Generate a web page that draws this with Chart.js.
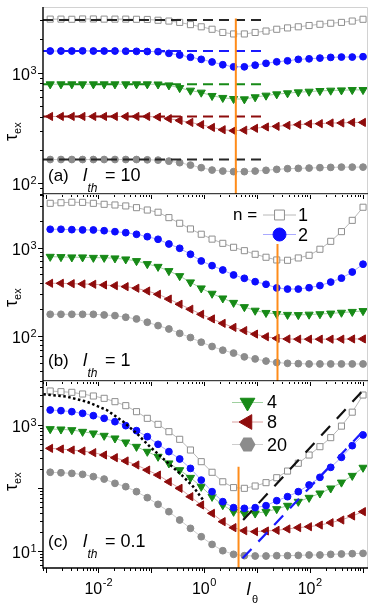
<!DOCTYPE html>
<html lang="en">
<head>
<meta charset="UTF-8">
<title>tau_ex vs l_theta</title>
<script src="https://cdn.jsdelivr.net/npm/chart.js"></script>
<style>
  html, body { margin: 0; padding: 0; background: #fff; }
  #figure { position: relative; width: 382px; height: 613px; overflow: hidden; }
  #figure canvas { position: absolute; left: 0; top: 0; }
</style>
</head>
<body>
<div id="figure">
  <canvas id="panelA" width="382" height="613"></canvas>
  <canvas id="panelB" width="382" height="613"></canvas>
  <canvas id="panelC" width="382" height="613"></canvas>
</div>
<script>
const FONT = '"Liberation Sans", Arial, sans-serif';
const X_MIN = 0.000891, X_MAX = 1259;

// l_theta, shared by all panels (each step is about x1.6)
const lTheta = [0.00122, 0.00195, 0.00313, 0.005, 0.008, 0.0128, 0.0205, 0.0328, 0.0524, 0.0839,
                0.134, 0.215, 0.344, 0.55, 0.88, 1.41, 2.25, 3.6, 5.76, 9.22,
                14.8, 23.6, 37.8, 60.4, 96.7, 155, 248, 396, 634, 1014];
const nLabels = ['1', '2', '4', '8', '20'];
const xTickExp = [-2, 0, 2];

// (a) l_th = 10
const aN1  = [3050, 3050, 3040, 3060, 3060, 3050, 3050, 3050, 3040, 3030, 2980, 2930, 2850, 2720, 2600, 2470, 2310, 2240, 2240, 2310, 2380, 2470, 2540, 2600, 2670, 2740, 2800, 2850, 2930, 3040];
const aN2  = [1570, 1570, 1570, 1575, 1570, 1570, 1570, 1565, 1560, 1555, 1550, 1495, 1445, 1380, 1320, 1250, 1180, 1130, 1130, 1170, 1215, 1255, 1280, 1320, 1335, 1355, 1375, 1385, 1385, 1395];
const aN4  = [787, 787, 787, 787, 787, 787, 787, 787, 787, 787, 785, 770, 728, 690, 662, 618, 593, 580, 576, 601, 622, 639, 653, 666, 675, 685, 690, 694, 699, 699];
const aN8  = [402, 402, 402, 402, 402, 402, 402, 402, 402, 402, 397, 384, 370, 355, 339, 320, 305, 299, 302, 314, 323, 327, 334, 339, 344, 346, 351, 351, 355, 355];
const aN20 = [164, 164, 164, 164, 164, 164, 164, 164, 164, 163, 162, 158.6, 153.5, 146, 138.4, 131.7, 129, 127.4, 127.4, 129, 131, 133.6, 135.5, 136.4, 137.3, 138.4, 139.2, 140, 140, 140];
const aPlateau    = [3000, 1570, 787, 402, 164];
const aPlateauEnd = [13.1, 15.1, 14.1, 13.1, 13.1];
const aMarkX = 3.97, aMarkTop = 3090;

// (b) l_th = 1
const bN1  = [3180, 3230, 3270, 3260, 3180, 3100, 3045, 2970, 2840, 2670, 2520, 2190, 1890, 1630, 1420, 1250, 1120, 1010, 925, 842, 779, 726, 720, 765, 820, 960, 1180, 1520, 2040, 2870];
const bN2  = [1616, 1616, 1600, 1590, 1587, 1557, 1518, 1479, 1418, 1332, 1245, 1101, 984, 842, 707, 626, 559, 491, 450, 412, 385, 350, 340, 340, 352, 372, 408, 452, 530, 650];
const bN4  = [791, 785, 779, 779, 770, 770, 759, 739, 707, 654, 609, 545, 478, 406, 347, 302, 267, 238, 213, 194, 183, 178, 174, 173, 175, 177, 180, 184, 188, 192];
const bN8  = [395, 395, 391, 388, 385, 378, 371, 362, 347, 323, 297, 262, 229, 201, 176, 156, 139, 125, 115, 105, 98, 94, 92.5, 92, 92, 92, 92, 92, 92.5, 92.5];
const bN20 = [176, 176, 176, 176, 176, 173, 170, 163, 156, 143, 131, 120, 107, 96, 85, 76, 69, 64, 58, 55, 52, 50, 49, 48.6, 48.2, 48.2, 48.2, 48.2, 48.2, 48.2];
const bMarkX = 24.4, bMarkTop = 1100;

// (c) l_th = 0.1
const cN1  = [3475, 3392, 3309, 3113, 2893, 2657, 2351, 2031, 1630, 1277, 1025, 783, 592, 400, 261, 177, 125, 101, 98.3, 107, 121, 145, 185, 246, 333, 452, 629, 960, 1600, 3000];
const cN2  = [1733, 1691, 1630, 1534, 1408, 1277, 1130, 976, 813, 652, 493, 377, 288, 204, 133, 87, 60.3, 48.4, 47.2, 48.4, 52.1, 62.5, 72.4, 87, 111, 147, 212, 306, 469, 694];
const cN4  = [864, 853, 832, 783, 737, 677, 614, 530, 452, 377, 314, 246, 192, 145, 104.5, 72.4, 53.4, 41.8, 39.3, 39.3, 41.8, 46.1, 52.1, 60.3, 69.8, 81.8, 98.3, 122, 156, 210];
const cN8  = [425, 415, 400, 386, 363, 333, 302, 268, 231, 192, 160, 125, 98.3, 72.4, 53.4, 39.3, 29, 23.3, 20.8, 20.1, 20.6, 21.1, 22.2, 23.3, 24.1, 25.6, 27.9, 30.8, 35.7, 41.8];
const cN20 = [177, 174, 170, 164, 151, 138, 118, 104.5, 87, 69.8, 54.7, 41.8, 30.8, 22.7, 16.7, 12.6, 10.0, 8.76, 8.34, 8.24, 8.24, 8.34, 8.34, 8.44, 8.55, 8.55, 8.76, 8.87, 8.97, 9.08];
const cDotX = [0.000905, 0.00251, 0.00598, 0.0143, 0.0294, 0.0527, 0.0942, 0.1945, 0.374, 0.62, 0.957];
const cDotY = [3076, 2825, 2351, 1733, 1130, 737, 452, 261, 160, 104.5, 64.1];
const cSlopeX1 = [5.46, 1175], cSlopeY1 = [30.8, 4064];
const cSlopeX2 = [5.32, 1175], cSlopeY2 = [7.57, 906];
const cMarkX = 4.47, cMarkTop = 217;

const STYLE = [
  { shape: 'rect',     r: 4.3, rot: 0,   fill: '#ffffff', edge: '#8f8f8f', line: '#b8b8b8', ref: '#262626' },
  { shape: 'circle',   r: 3.4, rot: 0,   fill: '#0d0dff', edge: '#0d0dff', line: '#a9a9ff', ref: '#1a1aff' },
  { shape: 'triangle', r: 4.7, rot: 180, fill: '#178a17', edge: '#178a17', line: '#9fd09f', ref: '#178a17' },
  { shape: 'triangle', r: 4.7, rot: 270, fill: '#8e0c0c', edge: '#8e0c0c', line: '#d9a0a0', ref: '#8e0c0c' },
  { shape: 'circle',   r: 3.4, rot: 0,   fill: '#8c8c8c', edge: '#8c8c8c', line: '#cdcdcd', ref: '#262626' }
];
const ORANGE = '#ff8c1a';

function pts(xs, ys) { return xs.map((x, i) => ({ x: x, y: ys[i] })); }

function refLine(data, color, width, dash, order) {
  return { data: data, borderColor: color, borderWidth: width, borderDash: dash,
           pointRadius: 0, fill: false, order: order, borderCapStyle: 'butt' };
}

const PANELS = [
  { id: 'panelA', tag: '(a)', lth: '10', top: 7, bottom: 194, yMin: 80, yMax: 3926, yExp: [2, 3],
    tagY: 181, tauY: 141, series: [aN1, aN2, aN4, aN8, aN20],
    refs: function (P) {
      const out = aPlateau.map((v, k) => refLine(pts([X_MIN, aPlateauEnd[k]], [v, v]), STYLE[k].ref, 2, [10, 6], 1));
      out.push(refLine(pts([aMarkX, aMarkX], [aMarkTop, P.yMin]), ORANGE, 2, [], 0));
      return out;
    } },
  { id: 'panelB', tag: '(b)', lth: '1', top: 194, bottom: 381, yMin: 30.9, yMax: 4055, yExp: [2, 3],
    tagY: 366, tauY: 307, series: [bN1, bN2, bN4, bN8, bN20], legend: 'b',
    refs: function (P) {
      return [refLine(pts([bMarkX, bMarkX], [bMarkTop, P.yMin]), ORANGE, 2, [], 0)];
    } },
  { id: 'panelC', tag: '(c)', lth: '0.1', top: 381, bottom: 568, yMin: 5.31, yMax: 5012, yExp: [1, 3],
    tagY: 547, tauY: 491, series: [cN1, cN2, cN4, cN8, cN20], legend: 'c', xLabels: true,
    refs: function (P) {
      return [
        refLine(pts(cDotX, cDotY), '#000000', 2.5, [2.5, 2.5], 1),
        refLine(pts(cSlopeX1, cSlopeY1), '#111111', 2.2, [13, 10], 1),
        refLine(pts(cSlopeX2, cSlopeY2), '#1a1aff', 2.2, [13, 10], 1),
        refLine(pts([cMarkX, cMarkX], [cMarkTop, P.yMin]), ORANGE, 2, [], 0)
      ];
    } }
];

function powLabel(ctx, exp, x, baseY, expY, align) {
  ctx.font = '16px ' + FONT; const w1 = ctx.measureText('10').width;
  ctx.font = '11px ' + FONT; const w2 = ctx.measureText(exp).width;
  const left = align === 'right' ? x - w1 - w2 - 0.5 : x - (w1 + w2 + 0.5) / 2;
  ctx.textAlign = 'left'; ctx.textBaseline = 'alphabetic'; ctx.fillStyle = '#000';
  ctx.font = '16px ' + FONT; ctx.fillText('10', left, baseY);
  ctx.font = '11px ' + FONT; ctx.fillText(exp, left + w1 + 0.5, expY);
}

function marker(ctx, s, x, y, r) {
  ctx.fillStyle = s.fill; ctx.strokeStyle = s.edge; ctx.lineWidth = 1;
  Chart.helpers.drawPoint(ctx, { pointStyle: s.shape, radius: r, rotation: s.rot, borderWidth: 1 }, x, y);
}

function legendRow(ctx, s, y, x0, x1, label, labelX, labelY, r, hexagon) {
  ctx.strokeStyle = s.line; ctx.lineWidth = 1;
  ctx.beginPath(); ctx.moveTo(x0, y); ctx.lineTo(x1, y); ctx.stroke();
  const cx = (x0 + x1) / 2;
  if (hexagon) {
    ctx.fillStyle = s.fill; ctx.beginPath();
    for (let i = 0; i < 6; i++) {
      const t = i * Math.PI / 3;
      ctx.lineTo(cx + r * Math.cos(t), y + r * Math.sin(t));
    }
    ctx.closePath(); ctx.fill();
  } else {
    marker(ctx, s, cx, y, r);
  }
  ctx.fillStyle = '#000'; ctx.font = '18px ' + FONT; ctx.textAlign = 'left';
  ctx.fillText(label, labelX, labelY);
}

function makeFrame(P) {
  return {
    id: 'frame' + P.id,
    afterDraw(chart) {
      const ctx = chart.ctx, a = chart.chartArea;
      const sx = chart.scales.x, sy = chart.scales.y;
      ctx.save();
      // pale top / right edges
      ctx.strokeStyle = '#d2d2d2'; ctx.lineWidth = 1;
      ctx.beginPath();
      ctx.moveTo(a.left, a.top + 0.5); ctx.lineTo(a.right - 0.5, a.top + 0.5); ctx.lineTo(a.right - 0.5, a.bottom);
      ctx.stroke();
      // black left and bottom axes
      ctx.strokeStyle = '#000'; ctx.lineWidth = 1.4;
      ctx.beginPath();
      ctx.moveTo(a.left, a.top); ctx.lineTo(a.left, a.bottom); ctx.lineTo(a.right, a.bottom);
      ctx.stroke();
      // ticks, outward
      ctx.lineWidth = 1;
      ctx.beginPath();
      for (let k = -4; k <= 4; k++) {
        for (let m = 1; m <= 9; m++) {
          const v = m * Math.pow(10, k);
          if (v >= P.yMin && v <= P.yMax) {
            const y = Math.round(sy.getPixelForValue(v)) + 0.5;
            ctx.moveTo(a.left - (m === 1 ? 5 : 3), y); ctx.lineTo(a.left, y);
          }
          if (v >= X_MIN && v <= X_MAX) {
            const x = Math.round(sx.getPixelForValue(v)) + 0.5;
            ctx.moveTo(x, a.bottom); ctx.lineTo(x, a.bottom + (m === 1 ? 5 : 3));
          }
        }
      }
      ctx.stroke();
      // y tick labels
      P.yExp.forEach(e => {
        const py = sy.getPixelForValue(Math.pow(10, e));
        powLabel(ctx, String(e), 36.5, py + 7, py + 1, 'right');
      });
      if (P.xLabels) {
        xTickExp.forEach(e => {
          const px = sx.getPixelForValue(Math.pow(10, e));
          powLabel(ctx, String(e), px, 593.5, 586, 'center');
        });
        ctx.fillStyle = '#000';
        ctx.font = 'italic 18px ' + FONT; ctx.fillText('l', 246.5, 595);
        ctx.font = '11px ' + FONT; ctx.fillText('\u03b8', 252, 603);
      }
      // y title, rotated
      ctx.save();
      ctx.translate(17, P.tauY); ctx.rotate(-Math.PI / 2);
      ctx.fillStyle = '#000'; ctx.textAlign = 'left';
      ctx.font = '18px ' + FONT; ctx.fillText('\u03c4', 0, 0);
      const tw = ctx.measureText('\u03c4').width;
      ctx.font = '11px ' + FONT; ctx.fillText('ex', tw, 4);
      ctx.restore();
      // panel tag
      ctx.fillStyle = '#000'; ctx.textAlign = 'left';
      ctx.font = '17px ' + FONT; ctx.fillText(P.tag, 48, P.tagY);
      ctx.font = 'italic 18px ' + FONT; ctx.fillText('l', 83, P.tagY);
      ctx.font = 'italic 12px ' + FONT; ctx.fillText('th', 87.5, P.tagY + 11);
      ctx.font = '18px ' + FONT; ctx.fillText('= ' + P.lth, 105, P.tagY);
      // legends
      if (P.legend === 'b') {
        ctx.fillStyle = '#000'; ctx.font = '17px ' + FONT; ctx.fillText('n =', 233, 220);
        legendRow(ctx, STYLE[0], 215, 263, 296, nLabels[0], 298, 220.5, 7);
        legendRow(ctx, STYLE[1], 234.5, 263, 296, nLabels[1], 298, 240.5, 6.5);
      }
      if (P.legend === 'c') {
        legendRow(ctx, STYLE[2], 402.5, 232, 263, nLabels[2], 267, 408, 8.5);
        legendRow(ctx, STYLE[3], 422, 232, 263, nLabels[3], 267, 428, 8.5);
        legendRow(ctx, STYLE[4], 444.5, 232, 263, nLabels[4], 267, 450.5, 8, true);
      }
      ctx.restore();
    }
  };
}

PANELS.forEach(P => {
  const datasets = P.series.map((ys, k) => {
    const s = STYLE[k];
    return {
      data: pts(lTheta, ys), borderColor: s.line, borderWidth: 1, fill: false,
      pointStyle: s.shape, pointRadius: s.r, pointRotation: s.rot,
      pointBackgroundColor: s.fill, pointBorderColor: s.edge, pointBorderWidth: 1,
      order: 5
    };
  }).concat(P.refs(P));

  new Chart(document.getElementById(P.id), {
    type: 'line',
    data: { datasets: datasets },
    options: {
      responsive: false, animation: false, devicePixelRatio: 1,
      layout: { padding: { top: P.top, right: 14, left: 0, bottom: 0 } },
      scales: {
        x: { type: 'logarithmic', min: X_MIN, max: X_MAX, bounds: 'data',
             ticks: { display: false }, grid: { display: false }, border: { display: false },
             afterFit: s => { s.height = 613 - P.bottom; } },
        y: { type: 'logarithmic', min: P.yMin, max: P.yMax, bounds: 'data',
             ticks: { display: false }, grid: { display: false }, border: { display: false },
             afterFit: s => { s.width = 43; } }
      },
      plugins: { legend: { display: false }, tooltip: { enabled: false } }
    },
    plugins: [makeFrame(P)]
  });
});
</script>
</body>
</html>
